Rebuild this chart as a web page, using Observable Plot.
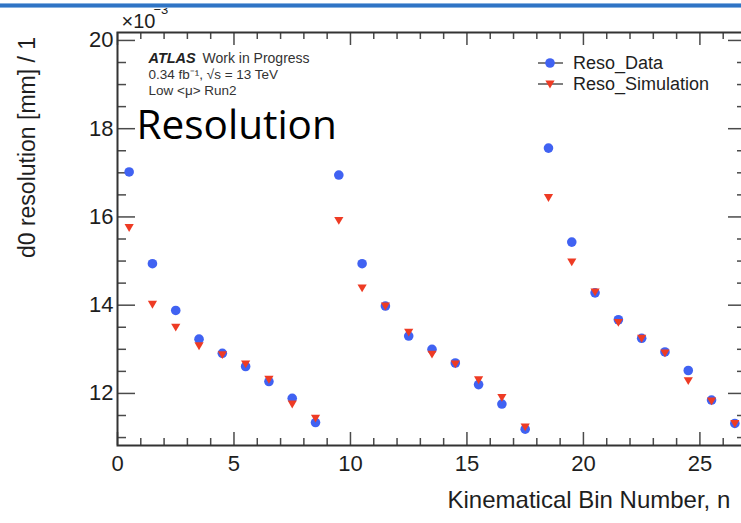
<!DOCTYPE html>
<html><head><meta charset="utf-8">
<script src="https://cdn.jsdelivr.net/npm/d3@7"></script>
<script src="https://cdn.jsdelivr.net/npm/@observablehq/plot@0.6"></script>
<style>
body{margin:0;background:#fff;}
#wrap{position:relative;width:741px;height:523px;overflow:hidden;background:#fff;}
#topline{position:absolute;left:0;top:3px;width:741px;height:5px;background:linear-gradient(#b3cfee,#2f74c5 30%,#2f74c5 70%,#b3cfee);}
#legend{position:absolute;left:530px;top:50px;}
</style></head><body>
<div id="wrap"><div id="topline"></div></div>
<script>
// Data (values in units of 1e-3 mm)
const bins = [0.5,1.5,2.5,3.5,4.5,5.5,6.5,7.5,8.5,9.5,10.5,11.5,12.5,13.5,14.5,15.5,16.5,17.5,18.5,19.5,20.5,21.5,22.5,23.5,24.5,25.5,26.5];
const resoData = [17.02,14.94,13.88,13.23,12.91,12.61,12.27,11.89,11.34,16.95,14.94,13.98,13.30,13.00,12.69,12.20,11.76,11.19,17.56,15.43,14.28,13.67,13.25,12.94,12.52,11.85,11.32];
const resoSim  = [15.76,14.02,13.50,13.08,12.88,12.67,12.32,11.76,11.44,15.92,14.39,13.98,13.39,12.89,12.67,12.31,11.91,11.24,16.44,14.98,14.30,13.61,13.25,12.92,12.29,11.83,11.32];
const seriesNames = ["Reso_Data","Reso_Simulation"];
const xTickValues = [0,5,10,15,20,25];
const yTickValues = [12,14,16,18,20];
const yTitle = "d0 resolution [mm] / 1";
const xTitle = "Kinematical Bin Number, n";

const blue = "#4062f2", red = "#ee3b24", tickColor = "#4a4a4a", ink = "#1e1e1e";
const table = bins.map((b,i)=>({bin:b, data:resoData[i], sim:resoSim[i]}));

const W=746, H=523, mL=117, mT=32, mB=78, mR=0;
const X0=0, X1=27, Y0=10.82, Y1=20.18;
const kx=(W-mL-mR)/(X1-X0), ky=(H-mT-mB)/(Y1-Y0);
const xMinor = d3.range(1,27,1).filter(v=>v%5!==0);
const yMinor = d3.range(11,20.01,0.5).filter(v=>v%2!==0);

const triDown = {draw(ctx,size){const r=Math.sqrt(size/Math.PI);ctx.moveTo(-r,-0.75*r);ctx.lineTo(r,-0.75*r);ctx.lineTo(0,0.95*r);ctx.closePath();}};
const font = "Liberation Sans, Arial, sans-serif";

const chart = Plot.plot({
  width: W, height: H,
  marginLeft: mL, marginTop: mT, marginBottom: mB, marginRight: mR,
  x: {domain:[X0,X1]},
  y: {domain:[Y0,Y1]},
  style: {maxWidth:"none", overflow:"visible", background:"transparent", fontFamily: font, color: ink},
  marks: [
    Plot.ruleX(xTickValues, {x:d=>d, y1:Y0, y2:Y0+13/ky, stroke:tickColor, strokeWidth:1.5}),
    Plot.ruleX(xMinor, {x:d=>d, y1:Y0, y2:Y0+7/ky, stroke:tickColor, strokeWidth:1.5}),
    Plot.ruleX(xTickValues, {x:d=>d, y1:Y1, y2:Y1-13/ky, stroke:tickColor, strokeWidth:1.5}),
    Plot.ruleX(xMinor, {x:d=>d, y1:Y1, y2:Y1-7/ky, stroke:tickColor, strokeWidth:1.5}),
    Plot.ruleY(yTickValues, {y:d=>d, x1:X0, x2:X0+18/kx, stroke:tickColor, strokeWidth:1.5}),
    Plot.ruleY(yMinor, {y:d=>d, x1:X0, x2:X0+9/kx, stroke:tickColor, strokeWidth:1.5}),
    Plot.ruleY(yTickValues, {y:d=>d, x1:X1, x2:X1-18/kx, stroke:tickColor, strokeWidth:1.5}),
    Plot.ruleY(yMinor, {y:d=>d, x1:X1, x2:X1-9/kx, stroke:tickColor, strokeWidth:1.5}),
    Plot.frame({stroke:"#333", strokeWidth:2}),
    Plot.axisX({ticks:xTickValues, tickSize:0, tickPadding:10, fontSize:22, label:null, tickFormat:d=>String(d)}),
    Plot.axisY({ticks:yTickValues, tickSize:0, tickPadding:4, fontSize:22, label:null, tickFormat:d=>String(d)}),
    Plot.dot(table, {x:"bin", y:"data", r:4.8, fill:blue}),
    Plot.dot(table, {x:"bin", y:"sim", r:4.6, fill:red, symbol:triDown}),
    Plot.text(["×10"], {frameAnchor:"top-left", dx:4, dy:-11, textAnchor:"start", lineAnchor:"middle", fontSize:20, fill:ink}),
    Plot.text(["−3"], {frameAnchor:"top-left", dx:36, dy:-23, textAnchor:"start", lineAnchor:"middle", fontSize:13, fill:ink}),
    Plot.text(["ATLAS"], {frameAnchor:"top-left", dx:31, dy:26, textAnchor:"start", lineAnchor:"middle", fontSize:14.5, fontWeight:"bold", fontStyle:"italic", fill:"#222"}),
    Plot.text(["Work in Progress"], {frameAnchor:"top-left", dx:85, dy:26, textAnchor:"start", lineAnchor:"middle", fontSize:14, fill:"#333"}),
    Plot.text(["0.34 fb⁻¹, √s = 13 TeV"], {frameAnchor:"top-left", dx:31, dy:42, textAnchor:"start", lineAnchor:"middle", fontSize:13.5, fill:"#333"}),
    Plot.text(["Low <μ> Run2"], {frameAnchor:"top-left", dx:31, dy:58, textAnchor:"start", lineAnchor:"middle", fontSize:13.5, fill:"#333"}),
    Plot.text(["Resolution"], {frameAnchor:"top-left", dx:19, dy:94, textAnchor:"start", lineAnchor:"middle", fontSize:40.5, fontFamily:"Open Sans", fill:"#000"}),
    Plot.text([yTitle], {frameAnchor:"top-left", dx:-90, dy:115, rotate:-90, textAnchor:"middle", lineAnchor:"middle", fontSize:23, fill:ink}),
    Plot.text([xTitle], {frameAnchor:"bottom-left", dx:330, dy:55, textAnchor:"start", lineAnchor:"middle", fontSize:24, fill:ink})
  ]
});
document.getElementById("wrap").appendChild(chart);

// Legend
const lg = d3.select("#wrap").append("svg").attr("id","legend").attr("width",210).attr("height",50);
const rows = [{name:seriesNames[0], color:blue, sym:"circle"},{name:seriesNames[1], color:red, sym:"tri"}];
rows.forEach((r,i)=>{
  const cy = 13 + i*21;
  lg.append("line").attr("x1",8).attr("x2",33).attr("y1",cy).attr("y2",cy).attr("stroke","#555").attr("stroke-width",1.5);
  if (r.sym==="circle") lg.append("circle").attr("cx",20).attr("cy",cy).attr("r",4.8).attr("fill",r.color);
  else lg.append("path").attr("d",`M${20-4.6},${cy-3.5}L${20+4.6},${cy-3.5}L20,${cy+4.4}Z`).attr("fill",r.color);
  lg.append("text").attr("x",43).attr("y",cy).attr("dy","0.35em").attr("font-family",font).attr("font-size",18).attr("fill",ink).text(r.name);
});
</script>
</body></html>
